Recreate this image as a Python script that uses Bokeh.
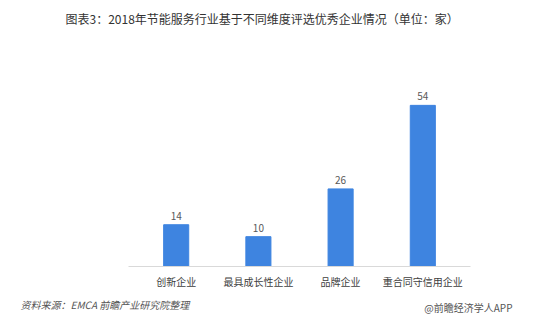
from bokeh.plotting import figure
from bokeh.models import ColumnDataSource, FactorRange, Range1d, Title
from bokeh.core.properties import value
from bokeh.embed import file_html
from bokeh.resources import INLINE

categories = ["创新企业", "最具成长性企业", "品牌企业", "重合同守信用企业"]
counts = [14, 10, 26, 54]
title_text = "图表3：2018年节能服务行业基于不同维度评选优秀企业情况（单位：家）"
source_text = "资料来源：EMCA 前瞻产业研究院整理"
brand_text = "@前瞻经济学人APP"

FONT = "Noto Sans CJK SC"
FL, FB = 128, 266  # frame left / bottom in canvas pixels

src = ColumnDataSource(data=dict(cat=categories, val=counts,
                                 lab=[str(v) for v in counts]))

p = figure(width=559, height=330, output_backend="svg", toolbar_location=None,
           x_range=FactorRange(factors=categories, range_padding=0.04),
           y_range=Range1d(0, 68.7),
           min_border_left=FL, min_border_right=89,
           min_border_top=60, min_border_bottom=330 - FB)
p.outline_line_color = None
p.background_fill_color = "white"
p.border_fill_color = "white"
p.xgrid.visible = False
p.ygrid.visible = False
p.yaxis.visible = False

p.vbar(x="cat", top="val", width=0.305, source=src, color="#3E84E0")
p.text(x="cat", y="val", text="lab", source=src, y_offset=-5,
       text_align="center", text_baseline="bottom",
       text_font=value(FONT), text_font_size="10px", text_color="#595959")

ax = p.xaxis[0]
ax.axis_line_color = "#D9D9D9"
ax.major_tick_line_color = None
ax.minor_tick_line_color = None
ax.major_tick_out = 0
ax.major_tick_in = 0
ax.major_label_text_font = FONT
ax.major_label_text_font_size = "10px"
ax.major_label_text_color = "#404040"
ax.major_label_standoff = 7

# spacer between frame and main title (stacked closest to the frame)
spacer = Title(text=" ", text_font_size="1px", standoff=21)
p.add_layout(spacer, "above")

p.title.text = title_text
p.title.align = "left"
p.title.vertical_align = "top"
p.title.text_font = FONT
p.title.text_font_size = "12px"
p.title.text_font_style = "normal"
p.title.text_color = "#333333"
p.title.standoff = 18
p.title.offset = 65 - FL

src_title = Title(text=source_text, align="left", text_font=FONT,
                  text_font_size="10px", text_font_style="italic",
                  text_color="#555555", standoff=6, offset=20 - FL)
brand_title = Title(text=brand_text, align="right", vertical_align="top",
                    text_font=FONT, text_font_size="10px",
                    text_font_style="normal", text_color="#555555",
                    standoff=-30, offset=-(512 - 470))
p.add_layout(src_title, "below")
p.add_layout(brand_title, "below")

open("out.html", "w").write(file_html(p, INLINE))
